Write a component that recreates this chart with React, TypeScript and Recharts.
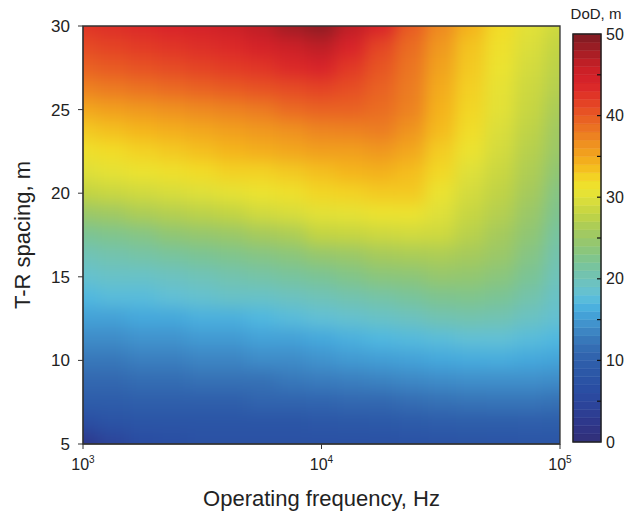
import React from "react";
import { ScatterChart, Scatter, XAxis, YAxis, ReferenceArea } from "recharts";

const W = 627;
const H = 514;
const FONT = "'Liberation Sans', Arial, Helvetica, sans-serif";

// grid columns: log10 of operating frequency (Hz)
const freqExp = [3, 3.125, 3.25, 3.375, 3.5, 3.625, 3.75, 3.875, 4, 4.125, 4.25, 4.375, 4.5, 4.625, 4.75, 4.875, 5];
// grid rows: T-R spacing (m), top to bottom
const spacing = [30, 28.75, 27.5, 26.25, 25, 23.75, 22.5, 21.25, 20, 18.75, 17.5, 16.25, 15, 13.75, 12.5, 11.25, 10, 8.75, 7.5, 6.25, 5];
// DoD (m), one row per spacing
const dod = [
  [42.5, 43, 43.5, 44, 44.5, 45.5, 46.5, 48, 49, 46.5, 44, 40, 37, 34.2, 32, 30.2, 28.8],
  [41, 41.5, 42, 42.5, 43, 43.5, 44.5, 45.5, 46.5, 44, 41.3, 38.9, 36, 33.3, 31.5, 29.7, 28],
  [39.5, 40, 40.5, 41, 41.5, 42, 42.5, 43.5, 44, 42.2, 40.3, 38.3, 35.3, 33, 31, 29.2, 27.5],
  [37.5, 38, 38.5, 39, 39.5, 40, 40.5, 41, 41.5, 40.8, 39.5, 37.9, 34.7, 32.6, 30.6, 28.7, 27],
  [35, 35.5, 36, 36.5, 37, 37.5, 38, 39, 39.5, 39.5, 38.8, 37.5, 34.2, 32.3, 30.3, 28.3, 26.3],
  [33, 33.5, 34, 34.5, 35, 35.5, 36, 36.5, 37.3, 37.5, 37.8, 36.3, 33.7, 31.8, 29.7, 27.7, 25.5],
  [31.5, 32, 32.5, 33, 33.5, 34, 34.5, 35, 35.5, 35.5, 36, 35, 32.8, 31, 29.2, 27.2, 25],
  [30, 30.5, 31, 31.5, 32, 32.5, 32.5, 33, 33.5, 34, 34.3, 33.6, 32.2, 30, 28.5, 26.6, 24],
  [28, 28.5, 29, 29.5, 30, 30.5, 31, 31.5, 32.3, 32.5, 32.9, 33, 30.9, 29.2, 27.8, 26, 23],
  [25, 25.5, 26.5, 27, 27.5, 28, 29, 29.5, 30.3, 30.5, 31, 31, 30, 28.3, 27, 25, 22.3],
  [22, 22.5, 23, 24, 24.5, 25, 26, 26.5, 28, 28.2, 28.7, 29, 28.8, 27.3, 26, 24, 21.3],
  [20, 20.5, 21, 21.5, 22, 22.5, 23, 23.5, 24.5, 25, 26, 26.3, 26.5, 26, 25, 23, 20.5],
  [18.5, 19, 19, 19.5, 20, 20.5, 21, 21.5, 22, 22.7, 23.5, 23.7, 24.5, 24.3, 23.5, 22, 19.8],
  [17, 17.5, 17.5, 18, 18.5, 19, 19, 19.5, 20, 20.5, 21, 21.6, 22.3, 22.5, 22, 20.7, 19],
  [15.5, 15.5, 16, 16, 16.5, 16.5, 17, 17.5, 18, 18.5, 19, 19.5, 20.3, 20.5, 20.3, 19.3, 18.3],
  [14, 14, 14.5, 14.5, 15, 15, 15.5, 15.5, 16, 16.5, 17, 17.3, 17.6, 18, 18, 17.5, 17],
  [12.5, 12.5, 13, 13, 13.5, 13.5, 14, 14, 14.5, 15, 15.3, 15.6, 16, 16.2, 16.3, 16, 15.7],
  [11, 11, 11.5, 11.5, 12, 12, 12, 12.5, 12.8, 13, 13.3, 13.7, 14, 14.2, 14.2, 14.2, 14],
  [9.5, 9.5, 10, 10, 10, 10, 10.5, 10.5, 10.7, 11, 11, 11.6, 12, 12.2, 12.3, 12.3, 12],
  [6.5, 7.5, 8, 8, 8, 8, 8, 8, 8.3, 8.5, 8.7, 9.1, 9.5, 9.7, 9.7, 9.8, 9.7],
  [2.5, 4.5, 6, 6.5, 7, 7, 7, 7, 7, 7, 7, 7.3, 7.5, 7.7, 7.8, 7.9, 8],
];

const freqTicks = [1000, 10000, 100000];
const spacingTicks = [5, 10, 15, 20, 25, 30];
const dodTicks = [0, 5, 10, 15, 20, 25, 30, 35, 40, 45, 50];

// colour map of the colour bar
const colorStops: [number, string][] = [
  [0, "#323078"], [2, "#2f3588"], [4, "#2c4197"], [6, "#2a4ca2"], [8, "#2b55a6"],
  [10, "#2f5fab"], [12, "#3671b5"], [14, "#3f8cc8"], [16, "#45a8dc"], [17, "#50b8e0"],
  [18, "#62c0d6"], [20, "#70c3b8"], [22, "#7bc495"], [24, "#90c674"], [26, "#a6ca5c"],
  [28, "#c3d443"], [30, "#dfe03a"], [31, "#ece330"], [32, "#f2dc27"], [34, "#f4b51c"],
  [36, "#f0981f"], [38, "#ec7a22"], [40, "#e85a23"], [42, "#e23b26"], [44, "#d8232a"],
  [46, "#c81f26"], [48, "#a11d25"], [50, "#7d1c22"],
];

const rgb = (h: string) => [1, 3, 5].map((i) => parseInt(h.slice(i, i + 2), 16));

function dodColor(v: number) {
  const val = Math.max(0, Math.min(50, v));
  let i = 0;
  while (i < colorStops.length - 2 && colorStops[i + 1][0] < val) i++;
  const [v0, c0] = colorStops[i];
  const [v1, c1] = colorStops[i + 1];
  const t = (val - v0) / (v1 - v0);
  const a = rgb(c0);
  const b = rgb(c1);
  const m = a.map((x, k) => Math.round(x + (b[k] - x) * t));
  return `rgb(${m[0]},${m[1]},${m[2]})`;
}

function Heatmap() {
  const hx = (freqExp[1] - freqExp[0]) / 2;
  const hy = (spacing[0] - spacing[1]) / 2;
  const last = freqExp.length - 1;
  const lastRow = spacing.length - 1;
  const cells: React.ReactNode[] = [];
  dod.forEach((row, i) =>
    row.forEach((v, j) => {
      const e = freqExp[j];
      const s = spacing[i];
      const e0 = j === 0 ? e - 0.25 : e - hx;
      const e1 = j === last ? e + 0.25 : e + hx;
      const s1 = i === 0 ? s + 2 : s + hy;
      const s0 = i === lastRow ? s - 2 : s - hy;
      const c = dodColor(v);
      cells.push(
        <ReferenceArea
          key={`c-${i}-${j}`}
          x1={Math.pow(10, e0)}
          x2={Math.pow(10, e1)}
          y1={s0}
          y2={s1}
          fill={c}
          fillOpacity={1}
          stroke={c}
          strokeWidth={1}
          ifOverflow="visible"
        />
      );
    })
  );
  return (
    <div
      style={{
        position: "absolute",
        left: 0,
        top: 0,
        width: W,
        height: H,
        filter: "blur(8px)",
        clipPath: "inset(26px 67px 70px 83px)",
      }}
    >
      <ScatterChart width={W} height={H} margin={{ top: 26, right: 67, bottom: 70, left: 83 }}>
        <XAxis type="number" dataKey="f" scale="log" domain={[1000, 100000]} allowDataOverflow hide />
        <YAxis type="number" dataKey="s" domain={[5, 30]} allowDataOverflow hide />
        <Scatter data={[]} isAnimationActive={false} />
        {cells}
      </ScatterChart>
    </div>
  );
}

const FreqTick = (props: any) => {
  const { x, y, payload } = props;
  const exp = Math.round(Math.log10(payload.value));
  return (
    <text x={x} y={y} dy="0.75em" textAnchor="middle" fontSize={16} fill="#222" fontFamily={FONT}>
      10
      <tspan dy={-7} fontSize={10}>
        {exp}
      </tspan>
    </text>
  );
};

function Axes() {
  return (
    <div style={{ position: "absolute", left: 0, top: 0 }}>
      <ScatterChart width={W} height={H} margin={{ top: 26, right: 67, bottom: 0, left: 0 }}>
        <XAxis
          type="number"
          dataKey="f"
          scale="log"
          domain={[1000, 100000]}
          ticks={freqTicks}
          allowDataOverflow
          height={70}
          stroke="#333"
          tickSize={5}
          tickMargin={9}
          tick={<FreqTick />}
          label={{
            value: "Operating frequency, Hz",
            position: "insideBottom",
            offset: 8,
            fontSize: 22,
            fill: "#222",
            fontFamily: FONT,
          }}
        />
        <YAxis
          type="number"
          dataKey="s"
          domain={[5, 30]}
          ticks={spacingTicks}
          allowDataOverflow
          width={83}
          stroke="#333"
          tickSize={5}
          tickMargin={8}
          tick={{ fontSize: 17, fill: "#222", fontFamily: FONT }}
          label={{
            value: "T-R spacing, m",
            angle: -90,
            position: "insideLeft",
            offset: 22,
            fontSize: 22,
            fill: "#222",
            fontFamily: FONT,
            style: { textAnchor: "middle" },
          }}
        />
        <Scatter data={[]} isAnimationActive={false} />
        <ReferenceArea
          x1={1000}
          x2={100000}
          y1={5}
          y2={30}
          fill="none"
          stroke="#333"
          strokeWidth={1.3}
          ifOverflow="visible"
        />
      </ScatterChart>
    </div>
  );
}

const BarTick = (props: any) => {
  const { x, y, payload } = props;
  const v = payload.value;
  return (
    <g>
      {v > 0 && v < 50 && <line x1={x - 9} x2={x - 5} y1={y} y2={y} stroke="#111" strokeWidth={1.2} />}
      {v % 10 === 0 && (
        <text x={x} y={y} dy="0.35em" textAnchor="start" fontSize={16} fill="#222" fontFamily={FONT}>
          {v}
        </text>
      )}
    </g>
  );
};

function ColorBar() {
  const bands = Array.from({ length: 50 }, (_, k) => k);
  return (
    <div style={{ position: "absolute", left: 560, top: 0 }}>
      <ScatterChart width={67} height={H} margin={{ top: 34, right: 0, bottom: 72, left: 13 }}>
        <XAxis type="number" dataKey="b" domain={[0, 1]} allowDataOverflow hide />
        <YAxis
          type="number"
          dataKey="v"
          orientation="right"
          domain={[0, 50]}
          ticks={dodTicks}
          interval={0}
          allowDataOverflow
          width={26}
          axisLine={false}
          tickLine={false}
          tickSize={0}
          tickMargin={5}
          tick={<BarTick />}
          label={{
            content: (p: any) => (
              <text
                x={p.viewBox.x - 5}
                y={p.viewBox.y - 15}
                textAnchor="middle"
                fontSize={15}
                fill="#222"
                fontFamily={FONT}
              >
                DoD, m
              </text>
            ),
          }}
        />
        <Scatter data={[]} isAnimationActive={false} />
        {bands.map((k) => (
          <ReferenceArea
            key={`b-${k}`}
            x1={0}
            x2={1}
            y1={k}
            y2={k + 1}
            fill={dodColor(k + 0.5)}
            fillOpacity={1}
            stroke={dodColor(k + 0.5)}
            strokeWidth={0.5}
            ifOverflow="visible"
          />
        ))}
        <ReferenceArea x1={0} x2={1} y1={0} y2={50} fill="none" stroke="#222" strokeWidth={1.5} ifOverflow="visible" />
      </ScatterChart>
    </div>
  );
}

export default function App() {
  return (
    <div style={{ position: "absolute", left: 0, top: 0, width: W, height: H, background: "#fff", fontFamily: FONT }}>
      <Heatmap />
      <Axes />
      <ColorBar />
    </div>
  );
}
